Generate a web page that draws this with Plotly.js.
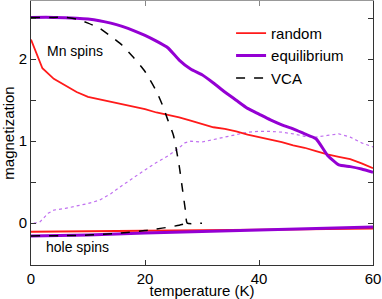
<!DOCTYPE html>
<html><head><meta charset="utf-8">
<script src="https://cdn.plot.ly/plotly-3.0.1.min.js"></script>
<style>html,body{margin:0;padding:0;background:#fff}#chart{width:382px;height:299px}</style>
</head><body><div id="chart"></div>
<script>
// Mn spins
const randT = [0,2,4,6,8,10,12,14,16,18,20,22,24,26,28,30,32,34,36,38,40,42,44,46,48,50,52,54,56,58,60];
const randM = [2.24,1.89,1.76,1.68,1.60,1.54,1.51,1.48,1.45,1.42,1.39,1.35,1.32,1.29,1.25,1.21,1.17,1.15,1.12,1.08,1.05,1.02,0.99,0.95,0.92,0.88,0.84,0.81,0.78,0.73,0.67];
const eqT = [0,4,8,10,12,14,16,18,20,22,24,26,28,30,32,34,36,38,40,42,44,46,48,50,52,54,56,58,60];
const eqM = [2.51,2.51,2.50,2.49,2.47,2.44,2.40,2.35,2.29,2.22,2.14,1.99,1.88,1.81,1.71,1.60,1.50,1.40,1.33,1.26,1.20,1.15,1.09,1.03,0.83,0.71,0.69,0.66,0.62];
const dotT = [0.5,1.5,3,4,6,8,10,12,14,16,18,20,22,24,26,27,28,30,32,34,36,38,40,42,44,46,48,50,52,54,56,58,60];
const dotM = [0,0.01,0.12,0.16,0.18,0.21,0.24,0.28,0.36,0.46,0.56,0.65,0.74,0.82,0.92,0.98,1.0,0.99,1.02,1.05,1.08,1.11,1.12,1.12,1.11,1.09,1.06,1.05,1.07,1.09,1.05,0.98,0.93];
const vcaT = [0,4,6,8,10,12,14,16,18,20,22,23,24,25,26,26.6,27.1,27.4,30];
const vcaM = [2.51,2.51,2.51,2.49,2.44,2.38,2.28,2.17,2.02,1.85,1.61,1.45,1.26,1.07,0.70,0.40,0.15,0,0];
// hole spins
const holeRandT = [0,20,40,60];
const holeRandM = [-0.105,-0.095,-0.08,-0.065];
const holeEqT = [0,10,20,30,40,50,60];
const holeEqM = [-0.155,-0.145,-0.12,-0.10,-0.08,-0.06,-0.045];
const holeVcaT = [0,5,10,15,20,22,24,26,27.4];
const holeVcaM = [-0.155,-0.153,-0.145,-0.125,-0.09,-0.07,-0.05,-0.025,0];

const RED = '#ff1a1a', PUR = '#9400d3', DOT = '#c070f0';
const traces = [
  {x: dotT, y: dotM, mode:'lines', line:{color:DOT, width:1.2, dash:'dot'}, showlegend:false},
  {x: holeRandT, y: holeRandM, mode:'lines', line:{color:RED, width:2}, showlegend:false},
  {x: holeEqT, y: holeEqM, mode:'lines', line:{color:PUR, width:3}, showlegend:false},
  {x: holeVcaT, y: holeVcaM, mode:'lines', line:{color:'#000', width:1.5, dash:'dash', shape:'spline', smoothing:0.6}, showlegend:false},
  {x: randT, y: randM, mode:'lines', name:'random', line:{color:RED, width:1.8}},
  {x: eqT, y: eqM, mode:'lines', name:'equilibrium', line:{color:PUR, width:3, shape:'spline', smoothing:0.5}},
  {x: vcaT, y: vcaM, mode:'lines', name:'VCA', line:{color:'#000', width:1.5, dash:'dash', shape:'spline', smoothing:0.5}}
];
const F = 'Liberation Sans, Arial, sans-serif';
const layout = {
  width:382, height:299,
  margin:{l:31, r:9, t:1, b:34},
  paper_bgcolor:'#fff', plot_bgcolor:'#fff',
  font:{family:F, size:13, color:'#000'},
  showlegend:true,
  legend:{x:0.585, y:0.94, xanchor:'left', yanchor:'top', bgcolor:'rgba(0,0,0,0)', font:{family:F, size:15}, tracegroupgap:0},
  xaxis:{range:[0,60], tickvals:[0,20,40,60], ticks:'inside', ticklen:5, tickcolor:'#333',
         showline:true, linecolor:'#333', linewidth:1, showgrid:false, zeroline:false,
         tickfont:{family:F, size:15},
         title:{text:'temperature (K)', font:{family:F, size:15}, standoff:1}},
  xaxis2:{range:[0,60], overlaying:'x', side:'top', tickvals:[20,40], ticks:'inside', ticklen:5, tickcolor:'#888',
          showticklabels:false, showline:true, linecolor:'#999', linewidth:2, showgrid:false, zeroline:false},
  yaxis:{range:[-0.51,2.71], tickvals:[-0.5,0,0.5,1,1.5,2,2.5], ticktext:['','0','','1','','2',''],
         ticks:'inside', ticklen:5, tickcolor:'#333', mirror:'ticks',
         showline:true, linecolor:'#333', linewidth:1, showgrid:false, zeroline:false,
         tickfont:{family:F, size:15},
         title:{text:'magnetization', font:{family:F, size:15}, standoff:3}},
  annotations:[
    {x:7.7, y:2.1, xref:'x', yref:'y', text:'Mn spins', showarrow:false, font:{family:F, size:14}},
    {x:8.1, y:-0.29, xref:'x', yref:'y', text:'hole spins', showarrow:false, font:{family:F, size:14}}
  ]
};
traces.push({x:[0], y:[0], xaxis:'x2', yaxis:'y', mode:'lines', showlegend:false, hoverinfo:'skip', line:{width:0}});
Plotly.newPlot('chart', traces, layout, {displayModeBar:false, staticPlot:true});
</script></body></html>
